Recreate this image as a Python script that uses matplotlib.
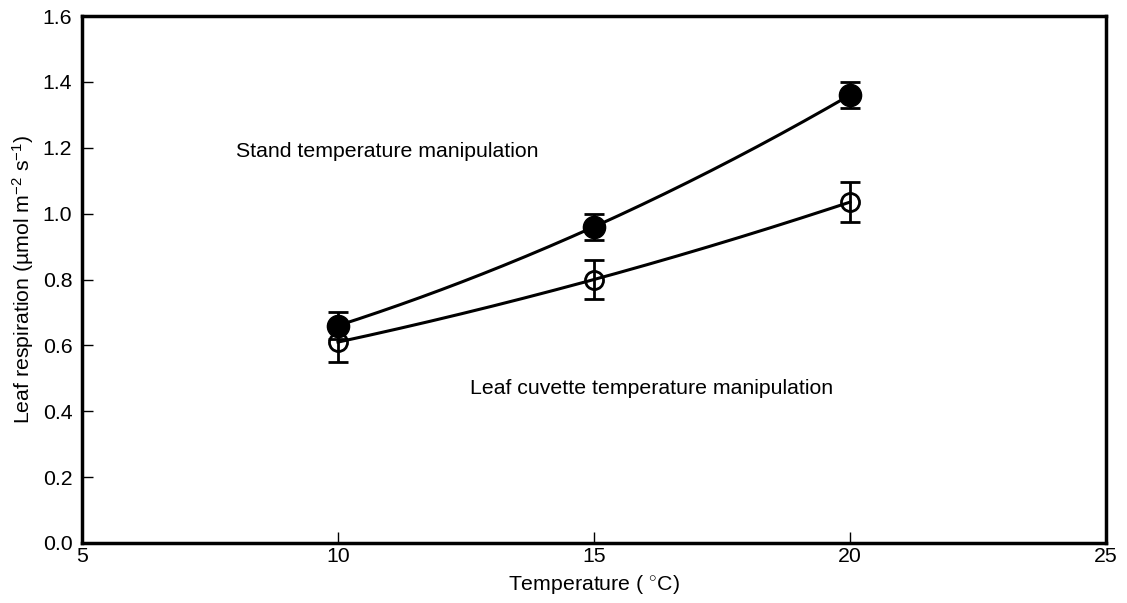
import numpy as np
import matplotlib
matplotlib.use("Agg")
import matplotlib.pyplot as plt

plt.rcParams['font.family'] = ['Liberation Sans', 'DejaVu Sans']
plt.rcParams['mathtext.fontset'] = 'custom'
plt.rcParams['mathtext.rm'] = 'Liberation Sans'
plt.rcParams['mathtext.it'] = 'Liberation Sans'

# Data
temperature = [10, 15, 20]
stand_resp = [0.66, 0.96, 1.36]
stand_err = [0.04, 0.04, 0.04]
cuvette_resp = [0.61, 0.80, 1.035]
cuvette_err = [0.06, 0.06, 0.06]

x_ticks = [5, 10, 15, 20, 25]
y_ticks = [0.0, 0.2, 0.4, 0.6, 0.8, 1.0, 1.2, 1.4, 1.6]

FS = 15.3

fig = plt.figure(figsize=(11.27, 6.03), dpi=100)
ax = fig.add_axes([82/1127, 1 - 543/603, (1106-82)/1127, (543-16)/603])

xs = np.linspace(temperature[0], temperature[-1], 200)
for yv in (stand_resp, cuvette_resp):
    coef = np.polyfit(temperature, yv, 2)
    ax.plot(xs, np.polyval(coef, xs), color='black', lw=2.2, zorder=2)

ax.errorbar(temperature, stand_resp, yerr=stand_err, fmt='o', color='black',
            ms=16, mfc='black', mec='black', capsize=7, capthick=2, elinewidth=2,
            zorder=3)
ax.errorbar(temperature, cuvette_resp, yerr=cuvette_err, fmt='o', color='black',
            ms=13, mfc='none', mec='black', mew=2, capsize=7, capthick=2,
            elinewidth=2, zorder=3)

ax.text(8.0, 1.19, 'Stand temperature manipulation', fontsize=FS,
        ha='left', va='center')
ax.text(12.58, 0.468, 'Leaf cuvette temperature manipulation', fontsize=FS,
        ha='left', va='center')

ax.set_xlim(5, 25)
ax.set_ylim(0, 1.6)
ax.set_xticks(x_ticks)
ax.set_xticklabels([str(v) for v in x_ticks])
ax.set_yticks(y_ticks)
ax.set_yticklabels([f'{v:.1f}' for v in y_ticks])
ax.tick_params(direction='in', length=8, width=1, labelsize=FS)
ax.tick_params(axis='x', pad=3)
ax.tick_params(axis='y', pad=7)
for s in ax.spines.values():
    s.set_linewidth(2.5)

ax.set_xlabel('Temperature ( $^{\\circ}$C)', fontsize=FS, labelpad=5)
ax.set_ylabel('Leaf respiration (µmol m$^{-2}$ s$^{-1}$)', fontsize=FS, labelpad=5)

fig.savefig('out.png', dpi=100)
